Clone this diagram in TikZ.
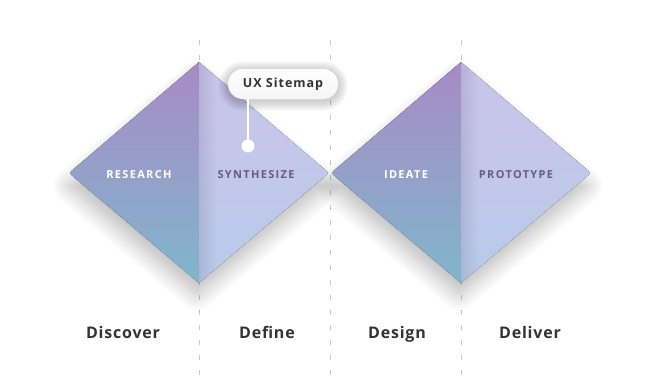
\documentclass[tikz,border=0pt]{standalone}
\usepackage{fontspec}
\setmainfont{Open Sans}
\usetikzlibrary{shadows.blur,fadings}

\definecolor{lilac}{HTML}{A88AC6}
\definecolor{dusk}{HTML}{9A9BC9}
\definecolor{teal}{HTML}{80B6CC}
\definecolor{mist}{HTML}{CBC4EA}
\definecolor{sky}{HTML}{B8CBEA}
\definecolor{plum}{HTML}{6A5B80}
\definecolor{ink}{HTML}{333333}
\definecolor{rule}{HTML}{C9C9C9}

\tikzset{
    column-rule/.style = {rule, line width=0.9pt, dash pattern=on 5pt off 10pt},
    diamond-base/.style = {fill=white, rounded corners=3pt,
        blur shadow={shadow xshift=-2pt, shadow yshift=-13pt, shadow blur radius=16pt, shadow blur steps=12, shadow opacity=26}},
    dark-half/.style = {top color=lilac, middle color=dusk, bottom color=teal},
    light-half/.style = {top color=mist, bottom color=sky},
    fold-shade/.style = {fill=plum, opacity=0.18, path fading=east},
    dark-label/.style = {anchor=base, text=white, font=\bfseries\fontsize{11}{13}\selectfont\addfontfeature{LetterSpace=12}},
    light-label/.style = {anchor=base, text=plum, font=\bfseries\fontsize{11}{13}\selectfont\addfontfeature{LetterSpace=12}},
    phase-label/.style = {anchor=base, text=ink, font=\bfseries\fontsize{16}{19}\selectfont\addfontfeature{LetterSpace=5}},
    callout-glow/.style = {fill=black, opacity=0.02, inner sep=0pt},
    callout-box/.style = {top color=white, bottom color=black!4, rounded corners=15pt, minimum width=110pt, minimum height=30pt,
        text=ink, font=\bfseries\fontsize{12.5}{15}\selectfont\addfontfeature{LetterSpace=8}},
    callout-dot/.style = {circle, fill=white, inner sep=0pt, minimum size=13pt},
}

\begin{document}
\begin{tikzpicture}[x=1pt, y=-1pt]
\useasboundingbox (0,0) rectangle (672,381);

% column rules
\foreach \x in {199,330,461}
    \draw[column-rule] (\x,40) -- (\x,381);

% white bases carry the drop shadows
\path[diamond-base] (69,173) -- (199,62) -- (329,173) -- (199,283) -- cycle;
\path[diamond-base] (331,173) -- (461,62) -- (591,173) -- (461,283) -- cycle;

% first diamond
\fill[dark-half] (199,62) [rounded corners=3pt] -- (69,173) [sharp corners] -- (199,283) -- cycle;
\fill[light-half] (199,62) [rounded corners=3pt] -- (329,173) [sharp corners] -- (199,283) -- cycle;
\begin{scope}
    \clip (199,62) -- (329,173) -- (199,283) -- cycle;
    \fill[fold-shade] (199,62) rectangle (216,283);
\end{scope}

% second diamond
\fill[dark-half] (461,62) [rounded corners=3pt] -- (331,173) [sharp corners] -- (461,283) -- cycle;
\fill[light-half] (461,62) [rounded corners=3pt] -- (591,173) [sharp corners] -- (461,283) -- cycle;
\begin{scope}
    \clip (461,62) -- (591,173) -- (461,283) -- cycle;
    \fill[fold-shade] (461,62) rectangle (478,283);
\end{scope}

\node[dark-label] (research) at (139,178) {RESEARCH};
\node[light-label] (synthesize) at (256,178) {SYNTHESIZE};
\node[dark-label] (ideate) at (406,178) {IDEATE};
\node[light-label] (prototype) at (516,178) {PROTOTYPE};

% callout on the define half
\foreach \i in {1,...,10}
    \node[callout-glow, minimum width={110+2*\i}, minimum height={30+2*\i}, rounded corners={15+\i}] at (283,86) {};
\node[callout-dot] (dot) at (248,146) {};
\node[callout-box] (sitemap) at (283,84) {UX Sitemap};
\draw[white, line width=2pt] (dot.center) -- (sitemap.south -| dot);

\node[phase-label] (discover) at (123,338) {Discover};
\node[phase-label] (define) at (267,338) {Define};
\node[phase-label] (design) at (397,338) {Design};
\node[phase-label] (deliver) at (530,338) {Deliver};
\end{tikzpicture}
\end{document}
